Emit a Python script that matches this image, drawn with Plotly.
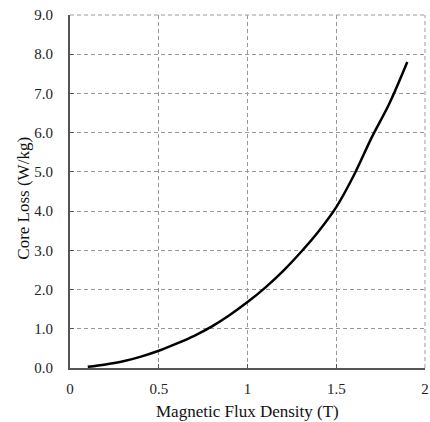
import plotly.graph_objects as go

flux_density = [0.1, 0.2, 0.3, 0.4, 0.5, 0.6, 0.7, 0.8, 0.9, 1.0, 1.1, 1.2, 1.3, 1.4, 1.5, 1.6, 1.7, 1.8, 1.9]
core_loss = [0.03, 0.09, 0.17, 0.29, 0.44, 0.62, 0.82, 1.06, 1.35, 1.68, 2.05, 2.47, 2.95, 3.48, 4.10, 4.92, 5.88, 6.75, 7.80]

x_ticks = [0, 0.5, 1, 1.5, 2]
x_tick_labels = ["0", "0.5", "1", "1.5", "2"]
y_ticks = [0, 1, 2, 3, 4, 5, 6, 7, 8, 9]
y_tick_labels = ["0.0", "1.0", "2.0", "3.0", "4.0", "5.0", "6.0", "7.0", "8.0", "9.0"]

x_title = "Magnetic Flux Density (T)"
y_title = "Core Loss (W/kg)"

font_family = "'Liberation Serif', 'Times New Roman', serif"
grid_color = "#999"
grid_dash = "4px,3px"

fig = go.Figure()
fig.add_trace(go.Scatter(
    x=flux_density, y=core_loss, mode="lines",
    line=dict(color="black", width=2.5, shape="spline", smoothing=1.0),
    showlegend=False, hoverinfo="skip",
))

fig.update_layout(
    width=430, height=422,
    margin=dict(l=70, r=5, t=15, b=54),
    paper_bgcolor="white", plot_bgcolor="white",
    font=dict(family=font_family, size=15, color="#222"),
)
fig.update_xaxes(
    range=[0, 2], tickvals=x_ticks, ticktext=x_tick_labels,
    showline=True, linecolor="#555", linewidth=2,
    showgrid=True, gridcolor=grid_color, griddash=grid_dash, gridwidth=1,
    zeroline=False, ticks="inside", ticklen=4, tickcolor="#555",
    ticklabelstandoff=6, automargin=False,
)
fig.update_yaxes(
    range=[0, 9], tickvals=y_ticks, ticktext=y_tick_labels,
    showline=True, linecolor="#555", linewidth=2,
    showgrid=True, gridcolor=grid_color, griddash=grid_dash, gridwidth=1,
    zeroline=False, ticks="inside", ticklen=4, tickcolor="#555",
    ticklabelstandoff=12, automargin=False,
)

# dashed borders at top (y=9) and right (x=2), matching the grid
fig.add_shape(type="line", xref="paper", yref="paper", x0=0, x1=1, y0=1, y1=1,
              line=dict(color=grid_color, width=1, dash=grid_dash))
fig.add_shape(type="line", xref="paper", yref="paper", x0=1, x1=1, y0=0, y1=1,
              line=dict(color=grid_color, width=1, dash=grid_dash))

fig.add_annotation(text=x_title, xref="paper", yref="paper", x=0.5, y=-0.122,
                   showarrow=False, font=dict(size=17, family=font_family, color="#111"),
                   xanchor="center", yanchor="middle")
fig.add_annotation(text=y_title, xref="paper", yref="paper", x=-0.13, y=0.482,
                   showarrow=False, textangle=-90, font=dict(size=17, family=font_family, color="#111"),
                   xanchor="center", yanchor="middle")

fig.write_html("out.html", config={"displayModeBar": False},
               post_script="document.body.style.margin='0';document.body.style.overflow='hidden';")
